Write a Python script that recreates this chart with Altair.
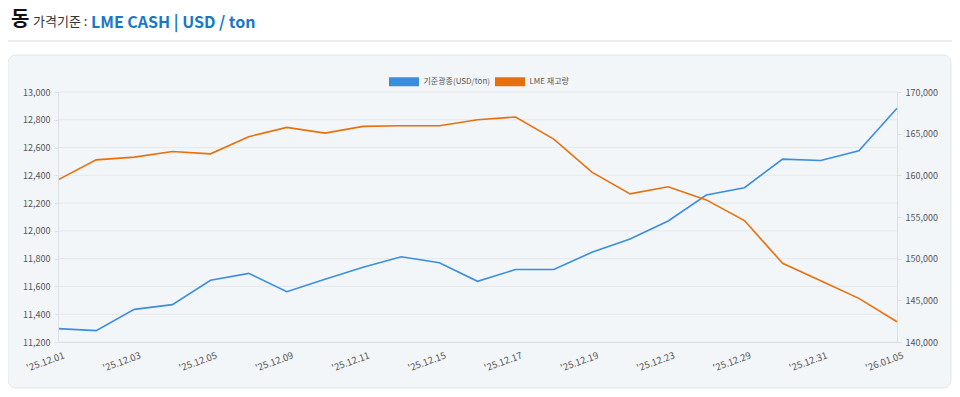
import altair as alt
import pandas as pd

# ---- data ----
dates = ["'25.12.01", "'25.12.02", "'25.12.03", "'25.12.04", "'25.12.05", "'25.12.08",
         "'25.12.09", "'25.12.10", "'25.12.11", "'25.12.12", "'25.12.15", "'25.12.16",
         "'25.12.17", "'25.12.18", "'25.12.19", "'25.12.22", "'25.12.23", "'25.12.24",
         "'25.12.29", "'25.12.30", "'25.12.31", "'26.01.02", "'26.01.05"]
price = [11296, 11282, 11435, 11469, 11644, 11694, 11562, 11651, 11738, 11814, 11771, 11637,
         11722, 11722, 11846, 11942, 12071, 12258, 12311, 12517, 12507, 12576, 12883]
stock = [159450, 161860, 162190, 162860, 162580, 164630, 165750, 165070, 165870, 165950,
         165950, 166670, 167000, 164350, 160380, 157780, 158620, 157050, 154570, 149450,
         147350, 145240, 142430]
series_names = ["기준광종(USD/ton)", "LME 재고량"]
series_colors = ["#3a8ee0", "#e8700c"]
price_ticks = [11200, 11400, 11600, 11800, 12000, 12200, 12400, 12600, 12800, 13000]
stock_ticks = [140000, 145000, 150000, 155000, 160000, 165000, 170000]
x_tick_labels = dates[::2]
title_main = "동"
title_label = "가격기준 :"
title_value = "LME CASH | USD / ton"

rows = []
for d, p, s in zip(dates, price, stock):
    rows.append({"date": d, "series": series_names[0], "value": p})
    rows.append({"date": d, "series": series_names[1], "value": s})
df = pd.DataFrame(rows)
grid_df = pd.DataFrame({"tick": price_ticks})
one = pd.DataFrame({"k": [0]})

FONT = "Noto Sans CJK KR"
W, H = 839, 250
AXIS_LINE = "#dde1e6"
LABEL = "#555555"
PRICE_DOMAIN = [11200, 13000]
STOCK_DOMAIN = [140000, 170000]

color = alt.Color(
    "series:N",
    sort=series_names,
    scale=alt.Scale(domain=series_names, range=series_colors),
    legend=alt.Legend(
        title=None, orient="none", legendX=326.5, legendY=-30, direction="horizontal",
        symbolType="stroke", symbolSize=900, symbolStrokeWidth=9,
        labelFont=FONT, labelFontSize=8, labelColor=LABEL, labelOffset=0, columnPadding=-14,
        zindex=1,
    ),
)

x = alt.X(
    "date:O", sort=dates, scale=alt.Scale(type="point", padding=0),
    axis=alt.Axis(title=None, values=x_tick_labels, labelAngle=-20, labelAlign="right",
                  labelBaseline="top", labelPadding=8, labelOffset=4, ticks=False, grid=False,
                  domainColor=AXIS_LINE, labelColor=LABEL, labelFont=FONT, labelFontSize=9.5,
                  labelOverlap=False, zindex=1),
)

# horizontal grid lines at the left-axis ticks (own scale with the same domain as the price axis)
grid_rules = alt.Chart(grid_df).mark_rule(color="#e4e8ec", strokeWidth=1).encode(
    y=alt.Y("tick:Q", scale=alt.Scale(domain=PRICE_DOMAIN, nice=False, zero=False), axis=None),
    x=alt.value(0), x2=alt.value(W),
)

price_line = alt.Chart(df).transform_filter(
    alt.FieldEqualPredicate(field="series", equal=series_names[0])
).mark_line(strokeWidth=1.6).encode(
    x=x,
    y=alt.Y("value:Q", scale=alt.Scale(domain=PRICE_DOMAIN, nice=False, zero=False),
            axis=alt.Axis(title=None, values=price_ticks, format=",.0f", orient="left",
                          grid=False, domainColor=AXIS_LINE, tickColor=AXIS_LINE,
                          tickSize=4, labelPadding=4, labelColor=LABEL, labelFont=FONT,
                          labelFontSize=9, labelOverlap=False, zindex=1)),
    color=color,
)

stock_line = alt.Chart(df).transform_filter(
    alt.FieldEqualPredicate(field="series", equal=series_names[1])
).mark_line(strokeWidth=1.6).encode(
    x=x,
    y=alt.Y("value:Q", scale=alt.Scale(domain=STOCK_DOMAIN, nice=False, zero=False),
            axis=alt.Axis(title=None, values=stock_ticks, format=",.0f", orient="right",
                          grid=False, domainColor=AXIS_LINE, tickColor=AXIS_LINE, tickSize=4,
                          labelPadding=4, labelColor=LABEL, labelFont=FONT, labelFontSize=9,
                          labelOverlap=False, zindex=1)),
    color=color,
)

panel = alt.Chart(one).mark_rect(fill="#f3f6f9", stroke="#e1e5e9", strokeWidth=1,
                                 cornerRadius=8).encode(
    x=alt.value(-50), x2=alt.value(893), y=alt.value(-37), y2=alt.value(296))

rule = alt.Chart(one).mark_rule(color="#dcdcdc", strokeWidth=1).encode(
    x=alt.value(-58), x2=alt.value(900), y=alt.value(-51))

t1 = alt.Chart(one).mark_text(text=title_main, font=FONT, fontSize=20, fontWeight="bold",
                              color="#111111", align="left", baseline="alphabetic").encode(
    x=alt.value(-47), y=alt.value(-66))
t2 = alt.Chart(one).mark_text(text=title_label, font=FONT, fontSize=13, color="#333333",
                              align="left", baseline="alphabetic").encode(
    x=alt.value(-25), y=alt.value(-66))
t3 = alt.Chart(one).mark_text(text=title_value, font=FONT, fontSize=16, fontWeight="bold",
                              color="#1877c9", align="left", baseline="alphabetic").encode(
    x=alt.value(33), y=alt.value(-64))

chart = alt.layer(panel, rule, t1, t2, t3, grid_rules, price_line, stock_line).resolve_scale(
    y="independent"
).properties(
    width=W, height=H,
    padding={"left": 50, "top": 84, "right": 55, "bottom": 47},
    autosize=alt.AutoSizeParams(type="none"),
    background="white",
).configure_view(stroke=None)

chart.save("out.html", embed_options={"renderer": "svg", "actions": False})
